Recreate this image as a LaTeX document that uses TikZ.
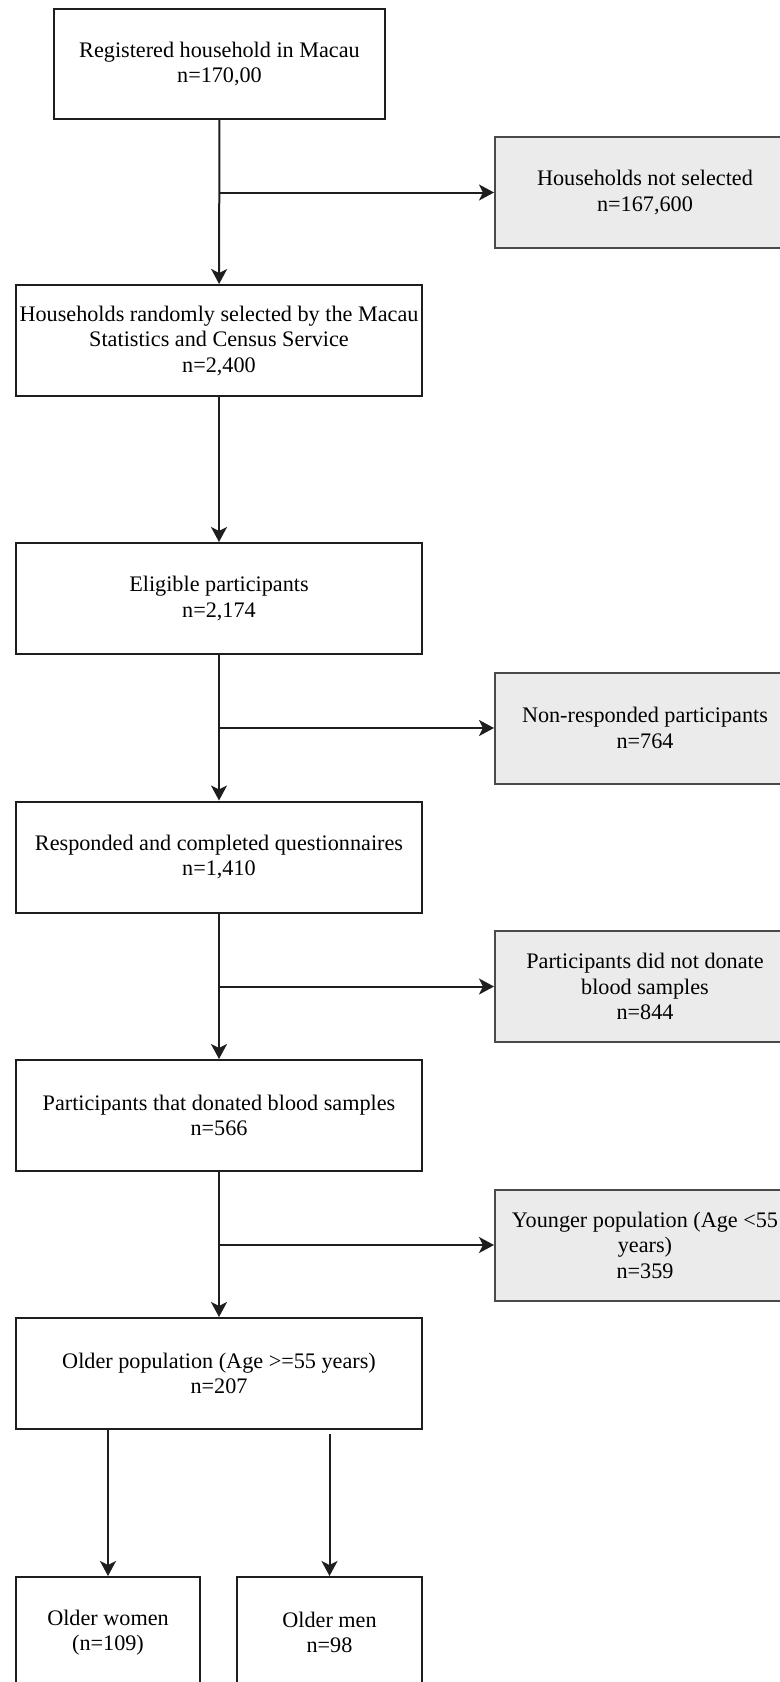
\documentclass[tikz,border=0pt]{standalone}
\usepackage{fontspec}
\setmainfont{Liberation Serif}
\usepackage{tikz}
\usetikzlibrary{arrows.meta,positioning}

\definecolor{boxline}{HTML}{1E1E1E}
\definecolor{greyfill}{HTML}{EBEBEB}
\definecolor{greyline}{HTML}{4A4A4A}

\begin{document}
\begin{tikzpicture}[x=0.5pt,y=-0.5pt,
    box/.style={draw=boxline, line width=1pt, fill=white, align=center, inner sep=0pt,
        minimum width=203pt, minimum height=55.5pt,
        font=\fontsize{11.1}{12.75}\selectfont},
    greybox/.style={box, draw=greyline, fill=greyfill, minimum width=150pt},
    arr/.style={draw=boxline, line width=1pt, -{Stealth[length=7.5pt,width=8pt,inset=2pt]}}]
    \useasboundingbox (0,0) rectangle (780,1682);

    % the boxes of the main column
    \node[box, minimum width=165.5pt, minimum height=55pt] (reg) at (219.5,64) {Registered household in Macau\\n=170,00};
    \node[box] (rand) at (219,340.5) {Households randomly selected by the Macau\\Statistics and Census Service\\n=2,400};
    \node[box] (elig) at (219,598.5) {Eligible participants\\n=2,174};
    \node[box] (resp) at (219,857) {Responded and completed questionnaires\\n=1,410};
    \node[box] (don) at (219,1115.5) {Participants that donated blood samples\\n=566};
    \node[box] (old) at (219,1373.5) {Older population (Age >=55 years)\\n=207};

    % the excluded ones on the right
    \node[greybox] (nsel) at (645,192.5) {Households not selected\\n=167,600};
    \node[greybox] (nresp) at (645,728) {Non-responded participants\\n=764};
    \node[greybox] (nodon) at (645,986.5) {Participants did not donate\\blood samples\\n=844};
    \node[greybox] (young) at (645,1245) {Younger population (Age <55\\years)\\n=359};

    % the two groups at the bottom
    \node[box, minimum width=92pt] (women) at (108,1632.5) {Older women\\(n=109)};
    \node[box, minimum width=92.5pt] (men) at (329.5,1632.5) {Older men\\n=98};

    % draw the arrows
    \draw[arr] (reg) -- (rand);
    \draw[arr] (reg.south |- nsel.west) -- (nsel.west);
    \draw[arr] (rand) -- (elig);
    \draw[arr] (elig) -- (resp);
    \draw[arr] (elig.south |- nresp.west) -- (nresp.west);
    \draw[arr] (resp) -- (don);
    \draw[arr] (resp.south |- nodon.west) -- (nodon.west);
    \draw[arr] (don) -- (old);
    \draw[arr] (don.south |- young.west) -- (young.west);
    \draw[arr] (old.south -| women.north) -- (women.north);
    \draw[arr] ([yshift=-2pt]old.south -| men.north) -- (men.north);

\end{tikzpicture}
\end{document}
